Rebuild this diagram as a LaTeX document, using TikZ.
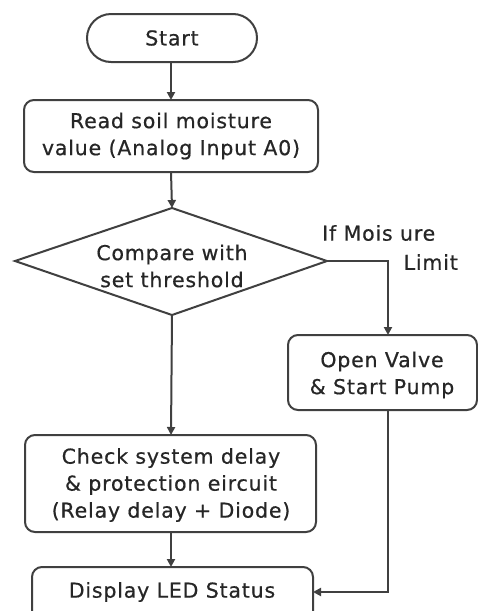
\documentclass[tikz,border=0pt]{standalone}
\usepackage{fontspec}
\setmainfont{DejaVu Sans}[LetterSpace=4,FakeBold=0.6]
\usetikzlibrary{shapes.geometric,arrows.meta}
\begin{document}
\begin{tikzpicture}[x=1pt,y=-1pt,
  every node/.style={font=\fontsize{20.5}{27}\selectfont, text=black!85},
  ln/.style={draw=black!75, line width=2pt},
  arr/.style={ln, -{Triangle[length=8pt,width=8pt]}},
  box/.style={ln, rounded corners=10pt},
  txt/.style={align=center, inner sep=0pt}]
\useasboundingbox[fill=white] (0,0) rectangle (478,611);
% shapes
\draw[ln, rounded corners=24pt] (87,14) rectangle (257,62);
\node[txt] (start) at (172,38) {Start};
\coordinate (startb) at (171,62);
\draw[box] (24,100) rectangle (318,172);
\node[txt] (read) at (171,136) {Read soil moisture\\value (Analog Input A0)};
\coordinate (readt) at (171,100);
\coordinate (readb) at (171,172);
\draw[ln] (172,208) -- (327,261) -- (172,315) -- (15,261) -- cycle;
\node[txt] (cmp) at (172,266) {Compare with\\set threshold};
\coordinate (cmpt) at (172,208);
\coordinate (cmpr) at (327,261);
\coordinate (cmpb) at (172,315);
\node[txt, anchor=west] (lbl1) at (322,233) {If Mois ure};
\node[txt, anchor=east] (lbl2) at (458,262) {Limit};
\draw[box] (288,335) rectangle (477,410);
\node[txt] (open) at (382,375) {Open Valve\\\& Start Pump};
\coordinate (opent) at (388,335);
\coordinate (openb) at (388,410);
\draw[box] (25,435) rectangle (316,532);
\node[txt] (check) at (171,485) {Check system delay\\\& protection eircuit\\(Relay delay + Diode)};
\coordinate (checkt) at (171,435);
\coordinate (checkb) at (171,532);
\draw[box] (32,567) rectangle (313,625);
\node[txt] (disp) at (172,592) {Display LED Status};
\coordinate (dispt) at (171,567);
\coordinate (dispr) at (313,592);
% connectors
\draw[arr] (startb) -- (readt);
\draw[arr] (readb) -- (cmpt);
\draw[arr] (cmpr) -| (opent);
\draw[arr] (cmpb) -- (checkt);
\draw[arr] (checkb) -- (dispt);
\draw[arr] (openb) |- (dispr);
\end{tikzpicture}
\end{document}
